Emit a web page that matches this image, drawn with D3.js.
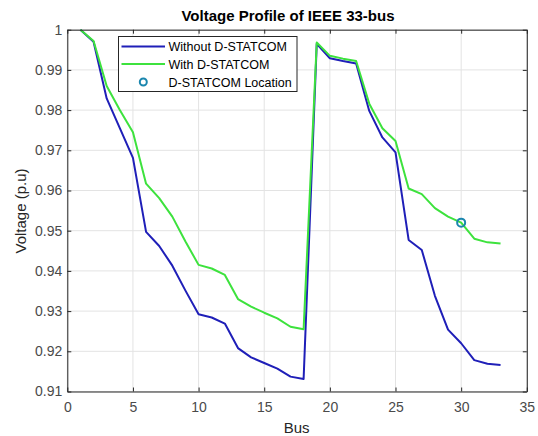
<!DOCTYPE html>
<html><head><meta charset="utf-8">
<script src="https://cdn.jsdelivr.net/npm/d3@7"></script>
<style>body{margin:0;background:#fff}svg{display:block}</style>
</head><body><svg id="c" width="538" height="436"></svg>
<script>
const buses = d3.range(1, 34);
const withoutDS = [1.0000,0.9970,0.9829,0.9755,0.9681,0.9497,0.9462,0.9413,0.9351,0.9292,0.9284,0.9269,0.9208,0.9185,0.9171,0.9157,0.9137,0.9131,0.9965,0.9929,0.9922,0.9916,0.9798,0.9732,0.9695,0.9477,0.9452,0.9338,0.9254,0.9220,0.9178,0.9169,0.9166];
const withDS = [1.0000,0.9972,0.9860,0.9800,0.9745,0.9617,0.9581,0.9535,0.9473,0.9415,0.9406,0.9390,0.9330,0.9311,0.9296,0.9282,0.9261,0.9255,0.9968,0.9935,0.9928,0.9922,0.9816,0.9755,0.9723,0.9605,0.9591,0.9556,0.9535,0.9520,0.9480,0.9471,0.9468];
const dstatcomBus = [30];
const dstatcomV = [0.9520];
const xTicks = [0,5,10,15,20,25,30,35];
const yTicks = [0.91,0.92,0.93,0.94,0.95,0.96,0.97,0.98,0.99,1];
const seriesNames = ["Without D-STATCOM","With D-STATCOM","D-STATCOM Location"];
const colors = {without:"#1f1fb8", with:"#3de23d", marker:"#1a86ae"};

const svg = d3.select("#c");
const L = 67.3, R = 526.8, T = 29.7, B = 391.5;
const x = d3.scaleLinear().domain([0,35]).range([L,R]);
const y = d3.scaleLinear().domain([0.91,1]).range([B,T]);
const font = "Arial, 'Liberation Sans', sans-serif";

// grid
svg.append("g").selectAll("line").data(xTicks).join("line")
  .attr("x1",d=>x(d)).attr("x2",d=>x(d)).attr("y1",T).attr("y2",B)
  .attr("stroke","#e3e3e3").attr("stroke-width",1);
svg.append("g").selectAll("line").data(yTicks).join("line")
  .attr("y1",d=>y(d)).attr("y2",d=>y(d)).attr("x1",L).attr("x2",R)
  .attr("stroke","#e3e3e3").attr("stroke-width",1);

// lines
const line = vals => d3.line().x((d,i)=>x(buses[i])).y(d=>y(d))(vals);
svg.append("path").attr("d",line(withoutDS)).attr("fill","none")
  .attr("stroke",colors.without).attr("stroke-width",2).attr("stroke-linejoin","round");
svg.append("path").attr("d",line(withDS)).attr("fill","none")
  .attr("stroke",colors.with).attr("stroke-width",2).attr("stroke-linejoin","round");
svg.append("g").selectAll("circle").data(dstatcomBus).join("circle")
  .attr("cx",d=>x(d)).attr("cy",(d,i)=>y(dstatcomV[i])).attr("r",4)
  .attr("fill","none").attr("stroke",colors.marker).attr("stroke-width",2);

// axes (box with inward ticks)
const axCol = "#262626";
const gB = svg.append("g").attr("transform",`translate(0,${B})`)
  .call(d3.axisBottom(x).tickValues(xTicks).tickSize(-4).tickPadding(10.5).tickSizeOuter(0));
const gT = svg.append("g").attr("transform",`translate(0,${T})`)
  .call(d3.axisTop(x).tickValues(xTicks).tickSize(-4).tickFormat("").tickSizeOuter(0));
const gL = svg.append("g").attr("transform",`translate(${L},0)`)
  .call(d3.axisLeft(y).tickValues(yTicks).tickSize(-4).tickPadding(5).tickFormat(d=>d===1?"1":d3.format(".2f")(d)).tickSizeOuter(0));
const gR = svg.append("g").attr("transform",`translate(${R},0)`)
  .call(d3.axisRight(y).tickValues(yTicks).tickSize(-4).tickFormat("").tickSizeOuter(0));
[gB,gT,gL,gR].forEach(g=>{
  g.selectAll("path,line").attr("stroke",axCol);
  g.selectAll("text").attr("fill","#4a4a4a").style("font-family",font).style("font-size","14px");
});

// title and labels
svg.append("text").attr("x",288).attr("y",20.5).attr("text-anchor","middle")
  .style("font-family",font).style("font-size","15px").style("font-weight","bold")
  .attr("fill","#000").text("Voltage Profile of IEEE 33-bus");
svg.append("text").attr("x",296.7).attr("y",433).attr("text-anchor","middle")
  .style("font-family",font).style("font-size","15px").attr("fill",axCol).text("Bus");
svg.append("text").attr("transform",`translate(25.5,211) rotate(-90)`).attr("text-anchor","middle")
  .style("font-family",font).style("font-size","15px").attr("fill",axCol).text("Voltage (p.u)");

// legend
const lg = svg.append("g");
lg.append("rect").attr("x",118.5).attr("y",36.5).attr("width",178.5).attr("height",55)
  .attr("fill","#fff").attr("stroke",axCol).attr("stroke-width",1);
const rows = [46.5,64,82];
lg.append("line").attr("x1",121.5).attr("x2",165).attr("y1",rows[0]).attr("y2",rows[0])
  .attr("stroke",colors.without).attr("stroke-width",2);
lg.append("line").attr("x1",121.5).attr("x2",165).attr("y1",rows[1]).attr("y2",rows[1])
  .attr("stroke",colors.with).attr("stroke-width",2);
lg.append("circle").attr("cx",143.3).attr("cy",rows[2]).attr("r",3.5)
  .attr("fill","none").attr("stroke",colors.marker).attr("stroke-width",2);
lg.selectAll("text.l").data(seriesNames).join("text").attr("class","l")
  .attr("x",168.5).attr("y",(d,i)=>rows[i]).attr("dy","0.36em")
  .style("font-family",font).style("font-size","12.5px").attr("fill","#000").text(d=>d);
</script></body></html>
